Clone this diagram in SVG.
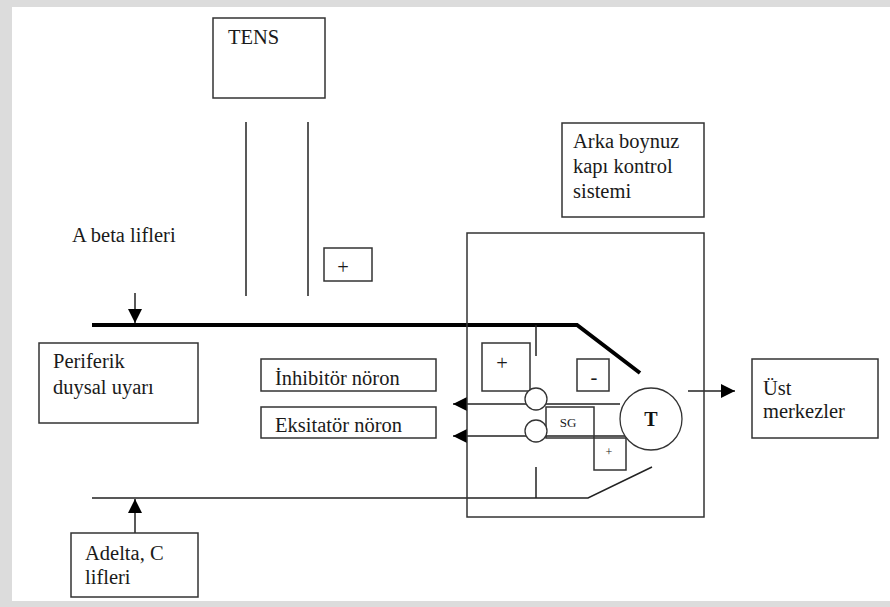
<svg xmlns="http://www.w3.org/2000/svg" width="890" height="607" viewBox="0 0 890 607">
<defs>
<style>
.b{fill:#fff;stroke:#333;stroke-width:1.5}
.t{font-family:"Liberation Serif","Times New Roman",serif;font-size:20.5px;fill:#1a1a1a}
.l{stroke:#222;stroke-width:1.5;fill:none}
.k{stroke:#000;stroke-width:4;fill:none}
.c{fill:#fff;stroke:#333;stroke-width:1.3}
</style>
<marker id="ah" viewBox="0 0 10 10" refX="10" refY="5" markerWidth="10" markerHeight="10" markerUnits="userSpaceOnUse" orient="auto">
<path d="M0,0 L10,5 L0,10 z" fill="#000"/>
</marker>
<marker id="ah2" viewBox="0 0 14 14" refX="14" refY="7" markerWidth="14" markerHeight="14" markerUnits="userSpaceOnUse" orient="auto">
<path d="M0,0 L14,7 L0,14 z" fill="#000"/>
</marker>
</defs>
<rect x="0" y="0" width="890" height="607" fill="#dcdcdc"/>
<rect x="12" y="7" width="878" height="594" fill="#fff"/>

<g id="connectors">
<line class="l" x1="246" y1="122" x2="246" y2="296"/>
<line class="l" x1="308" y1="122" x2="308" y2="296"/>
<line class="l" x1="135" y1="293" x2="135" y2="323" marker-end="url(#ah2)"/>
<polyline class="k" points="92,325 577,325 640,373"/>
<line class="l" x1="536" y1="325" x2="536" y2="356"/>
<line class="l" x1="620" y1="404" x2="453" y2="404" marker-end="url(#ah2)"/>
<line class="l" x1="625" y1="436" x2="453" y2="436" marker-end="url(#ah2)"/>
<line class="l" x1="536" y1="467" x2="536" y2="498"/>
<polyline class="l" points="92,498 588,498 652,467"/>
<line class="l" x1="135" y1="533" x2="135" y2="499" marker-end="url(#ah2)"/>
<line class="l" x1="688" y1="391" x2="735" y2="391" marker-end="url(#ah2)"/>
</g>

<g id="tens"><rect class="b" x="213" y="18" width="112" height="80"/><text class="t" x="228" y="44">TENS</text></g>
<g id="arka"><rect class="b" x="562" y="123" width="142" height="94"/><text class="t" x="573" y="148">Arka boynuz</text><text class="t" x="573" y="173">kapı kontrol</text><text class="t" x="573" y="198">sistemi</text></g>
<g id="abeta"><text class="t" x="72" y="242">A beta lifleri</text></g>
<g id="plus-top"><rect class="b" x="324" y="248" width="48" height="33"/><text class="t" x="343" y="274" text-anchor="middle">+</text></g>
<g id="gate"><rect x="467" y="233" width="237" height="284" fill="none" stroke="#333" stroke-width="1.5"/></g>
<g id="periferik"><rect class="b" x="39" y="343" width="159" height="80"/><text class="t" x="53" y="368">Periferik</text><text class="t" x="53" y="394">duysal uyarı</text></g>
<g id="inhibitor"><rect class="b" x="261" y="359" width="175" height="32"/><text class="t" x="275" y="385">İnhibitör nöron</text></g>
<g id="eksitator"><rect class="b" x="261" y="407" width="175" height="31"/><text class="t" x="275" y="432">Eksitatör nöron</text></g>
<g id="plus-gate"><rect class="b" x="482" y="343" width="48" height="48"/><text class="t" x="502" y="370" text-anchor="middle">+</text></g>
<g id="minus-gate"><rect class="b" x="577" y="359" width="32" height="32"/><text class="t" x="594" y="384" text-anchor="middle">-</text></g>
<g id="sg"><rect class="b" x="546" y="407" width="48" height="31" fill-opacity="0"/><text x="568" y="427" text-anchor="middle" style="font-family:'Liberation Serif',serif;font-size:13px;fill:#1a1a1a">SG</text></g>
<g id="plus-small"><rect class="b" x="594" y="438" width="32" height="32"/><text x="609" y="456" text-anchor="middle" style="font-family:'Liberation Serif',serif;font-size:12px;fill:#1a1a1a">+</text></g>
<g id="n1"><circle class="c" cx="536" cy="399" r="11"/></g>
<g id="n2"><circle class="c" cx="536" cy="431" r="11"/></g>
<g id="T"><circle class="c" cx="651" cy="419" r="31"/><text x="651" y="426" text-anchor="middle" style="font-family:'Liberation Serif',serif;font-size:20px;font-weight:bold;fill:#111">T</text></g>
<g id="ust"><rect class="b" x="752" y="359" width="126" height="79"/><text class="t" x="763" y="395">Üst</text><text class="t" x="763" y="418">merkezler</text></g>
<g id="adelta"><rect class="b" x="71" y="533" width="127" height="64"/><text class="t" x="85" y="560">Adelta, C</text><text class="t" x="85" y="584">lifleri</text></g>
</svg>
